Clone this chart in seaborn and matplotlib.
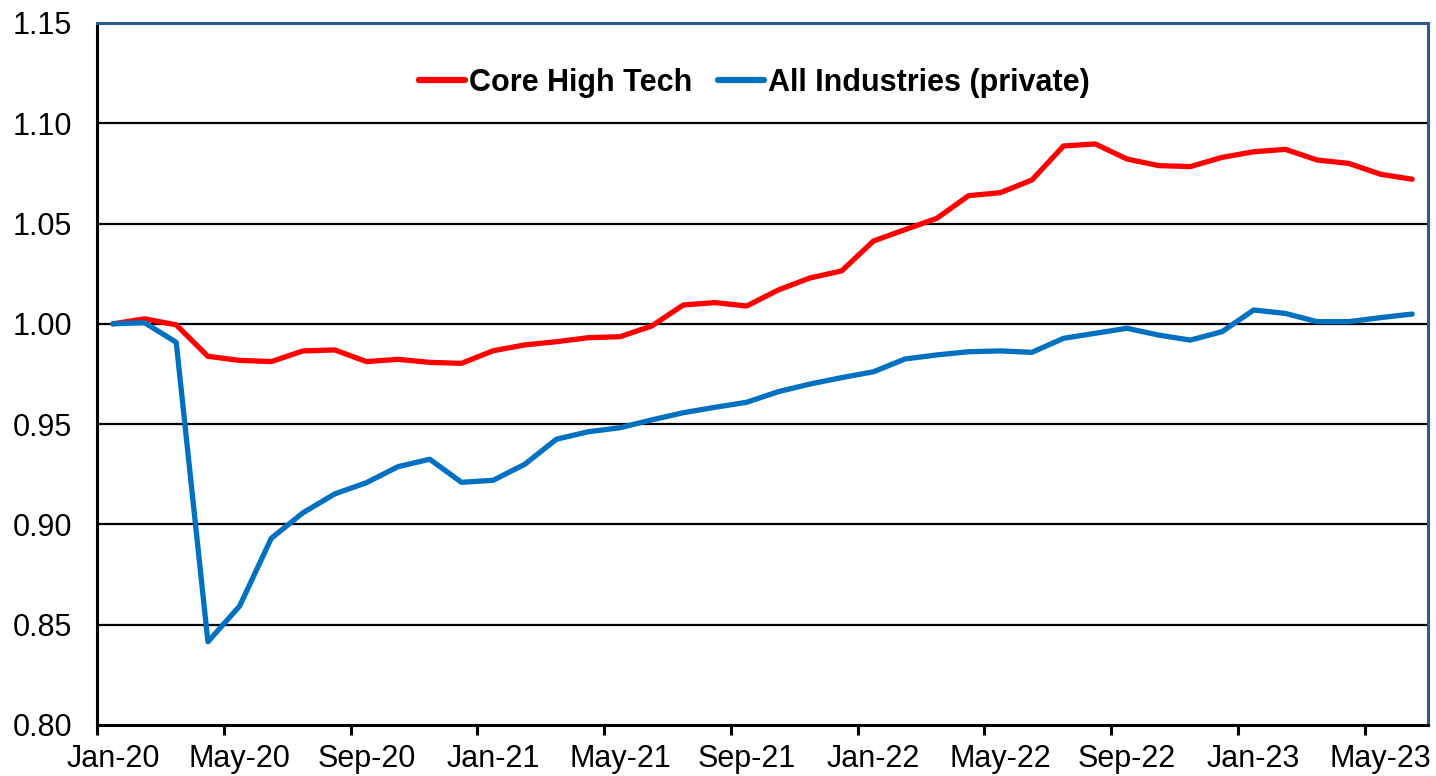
import matplotlib
matplotlib.use("Agg")
import matplotlib.pyplot as plt
import seaborn as sns
import pandas as pd
import numpy as np
from matplotlib.ticker import FixedLocator, FuncFormatter

months = pd.date_range("2020-01-01", "2023-06-01", freq="MS")
month_labels = [d.strftime("%b-%y") for d in months]

core_high_tech = [1.000, 1.0025, 0.9995, 0.9838, 0.9818, 0.9812, 0.9865, 0.9870,
                  0.9812, 0.9823, 0.9808, 0.9803, 0.9866, 0.9895, 0.9911, 0.9931,
                  0.9936, 0.9989, 1.0094, 1.0106, 1.0089, 1.0169, 1.0229, 1.0264,
                  1.0413, 1.0470, 1.0526, 1.0639, 1.0654, 1.0717, 1.0887, 1.0897,
                  1.0822, 1.0789, 1.0784, 1.0830, 1.0858, 1.0870, 1.0817, 1.0800,
                  1.0746, 1.0721]
all_industries = [1.000, 1.0006, 0.9908, 0.8415, 0.8593, 0.8931, 0.9058, 0.9152,
                  0.9208, 0.9288, 0.9325, 0.9210, 0.9220, 0.9300, 0.9425, 0.9462,
                  0.9482, 0.9521, 0.9557, 0.9584, 0.9609, 0.9662, 0.9700, 0.9732,
                  0.9761, 0.9825, 0.9845, 0.9861, 0.9865, 0.9858, 0.9928, 0.9953,
                  0.9978, 0.9944, 0.9919, 0.9961, 1.0069, 1.0052, 1.0011, 1.0011,
                  1.0031, 1.0049]
series_names = ["Core High Tech", "All Industries (private)"]
y_ticks = [0.80, 0.85, 0.90, 0.95, 1.00, 1.05, 1.10, 1.15]

n = len(months)
df = pd.DataFrame({
    "idx": list(range(n)) * 2,
    "value": core_high_tech + all_industries,
    "series": [series_names[0]] * n + [series_names[1]] * n,
})

sns.set_theme(style="white")
plt.rcParams["font.family"] = ["Liberation Sans", "DejaVu Sans"]
plt.rcParams["text.color"] = "black"
plt.rcParams["xtick.color"] = "black"
plt.rcParams["ytick.color"] = "black"

fig = plt.figure(figsize=(14.36, 7.76), dpi=100)
ax = fig.add_axes([97/1436, 1 - 725/776, (1428-97)/1436, (725-23)/776])

sns.lineplot(data=df, x="idx", y="value", hue="series",
             palette={series_names[0]: "#FF0000", series_names[1]: "#0070C0"},
             linewidth=3.8, ax=ax, legend=True, solid_capstyle="round")

ax.set_xlim(-0.5, n - 0.5)
ax.set_ylim(0.80, 1.15)
ax.set_xlabel("")
ax.set_ylabel("")

# y axis
ax.yaxis.set_major_locator(FixedLocator(y_ticks))
ax.yaxis.set_major_formatter(FuncFormatter(lambda v, p: f"{v:.2f}"))
ax.tick_params(axis="y", which="major", length=0, pad=18, labelsize=22, labelcolor="black")
for yv in y_ticks[1:-1]:
    ax.axhline(yv, color="black", linewidth=1.6, zorder=0.5)

# x axis: labels at category centers, ticks at boundaries
label_pos = list(range(0, n, 4))
ax.xaxis.set_major_locator(FixedLocator(label_pos))
ax.set_xticklabels([month_labels[i] for i in label_pos])
ax.xaxis.set_minor_locator(FixedLocator([p - 0.5 for p in label_pos]))
ax.tick_params(axis="x", which="major", length=0, pad=14, labelsize=22, labelcolor="black")
ax.tick_params(axis="x", which="minor", length=7, width=2.2, color="black", direction="out", bottom=True)

for s in ["left", "bottom"]:
    ax.spines[s].set_color("black")
    ax.spines[s].set_linewidth(2.2)
for s in ["top", "right"]:
    ax.spines[s].set_color("#2E5B8C")
    ax.spines[s].set_linewidth(2.2)

ax.grid(False)

leg = ax.legend(loc="center", bbox_to_anchor=(0.494, 0.9145), ncol=2, frameon=False,
                handlelength=1.5, handletextpad=0.13, columnspacing=0.85,
                prop={"weight": "bold", "size": 22})
for line in leg.get_lines():
    line.set_linewidth(4.5)
for t in leg.get_texts():
    t.set_color("black")

fig.savefig("out.png", dpi=100)
